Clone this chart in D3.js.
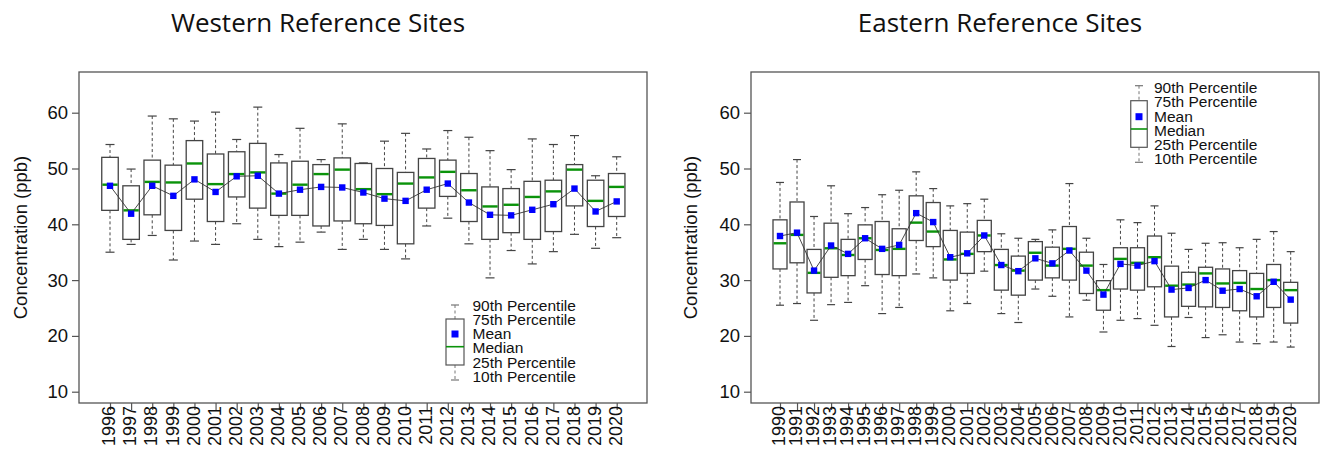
<!DOCTYPE html>
<html><head><meta charset="utf-8">
<script src="https://cdn.jsdelivr.net/npm/d3@7"></script>
<style>body{margin:0;background:#fff}svg{display:block}</style>
</head><body>
<svg id="c" width="1321" height="457"></svg>
<script>
// ---------- Data ----------
const westYears = d3.range(1996, 2021).map(String);
const westP90 = [54.3,49.9,59.4,58.9,58.5,60.1,55.2,61.0,52.5,57.2,51.6,58.0,51.0,54.9,56.3,53.5,56.8,55.6,53.2,49.8,55.3,54.3,55.9,48.7,52.1];
const westP75 = [52.0,46.9,51.5,50.6,55.0,52.6,53.0,54.5,51.0,51.3,50.7,51.9,50.9,50.0,49.3,51.8,51.5,49.1,46.7,46.4,47.7,47.9,50.7,47.9,49.1];
const westMedian = [47.1,42.5,47.6,47.5,50.9,47.2,49.0,49.3,45.5,47.1,49.0,49.8,46.3,45.4,47.3,48.4,49.4,46.1,43.2,43.5,44.9,45.9,49.8,44.2,46.7];
const westMean = [46.9,41.9,46.9,45.1,48.05,45.8,48.6,48.7,45.5,46.2,46.7,46.6,45.7,44.6,44.2,46.2,47.3,43.9,41.7,41.6,42.6,43.6,46.4,42.3,44.1];
const westP25 = [42.5,37.3,41.7,38.9,44.5,40.5,44.9,42.9,41.6,41.6,39.7,40.6,40.1,39.8,36.5,42.9,45.0,40.5,37.3,38.5,37.3,38.7,43.3,39.6,41.4];
const westP10 = [35.0,36.4,38.0,33.6,37.0,36.4,40.1,37.3,36.0,36.8,38.6,35.5,37.3,35.5,33.8,39.7,41.1,36.5,30.4,35.3,32.9,35.1,38.2,35.7,37.6];

const eastYears = d3.range(1990, 2021).map(String);
const eastP90 = [47.5,51.6,41.4,46.9,41.9,43.0,45.3,46.1,49.4,46.4,43.3,43.7,44.5,38.3,37.5,37.3,39.0,47.3,37.5,32.8,40.8,40.3,43.3,38.4,35.5,36.6,36.7,35.8,37.3,38.7,35.1];
const eastP75 = [40.8,44.0,35.5,40.2,37.3,39.9,40.5,39.2,45.1,43.9,38.9,38.6,40.7,35.5,34.3,36.9,35.9,39.6,35.0,29.9,35.8,35.8,37.9,32.5,31.4,32.3,32.0,31.7,31.2,32.8,29.6];
const eastMedian = [36.6,38.1,31.3,35.7,34.5,37.5,35.4,35.6,40.3,38.7,33.7,34.7,38.0,32.7,31.7,34.9,32.6,35.6,32.6,28.2,33.8,33.1,34.1,29.0,29.2,31.2,29.4,29.5,28.4,30.0,28.2];
const eastMean = [37.9,38.5,31.7,36.2,34.7,37.5,35.6,36.3,42.0,40.4,34.1,34.8,38.0,32.7,31.6,33.9,33.0,35.3,31.7,27.4,32.9,32.6,33.4,28.3,28.6,30.0,28.1,28.4,27.1,29.7,26.5];
const eastP25 = [32.0,33.1,27.7,30.5,30.8,33.7,31.0,30.8,37.1,36.0,30.0,31.2,35.1,28.2,27.3,30.0,30.4,30.0,27.6,24.6,28.4,28.2,28.8,23.4,25.3,25.2,25.1,24.5,23.4,25.1,22.3];
const eastP10 = [25.5,25.8,22.8,25.6,26.0,29.0,24.0,25.1,31.1,30.4,24.5,25.8,31.6,24.0,22.4,28.4,27.1,23.4,26.4,20.7,22.8,23.1,21.9,18.1,23.3,19.7,20.2,18.9,18.6,18.9,18.0];

const yTicks = [10,20,30,40,50,60];
const legendLabels = ["90th Percentile","75th Percentile","Mean","Median","25th Percentile","10th Percentile"];
const yLabel = "Concentration (ppb)";

// ---------- Drawing ----------
const svg = d3.select("#c");
const AX = "Liberation Sans, Arial, sans-serif";
const STROKE = "#444";

function panel(o){
  const g = svg.append("g");
  const rows = o.years.map((y,i)=>({year:y,p10:o.p10[i],p25:o.p25[i],med:o.med[i],mean:o.mean[i],p75:o.p75[i],p90:o.p90[i]}));
  const x = d3.scalePoint().domain(o.years).range([o.x0, o.x1]);
  const y = d3.scaleLinear().domain([10,60]).range([391.7,112.7]);
  const top = 72, bot = 403;
  const bw = o.bw, cw = o.cw;

  g.append("rect").attr("x",o.left).attr("y",top).attr("width",o.right-o.left).attr("height",bot-top)
    .attr("fill","none").attr("stroke","#555").attr("stroke-width",1.3);

  g.append("g").attr("transform",`translate(${o.left},0)`)
    .call(d3.axisLeft(y).tickValues(yTicks).tickSize(7).tickPadding(4))
    .call(a=>{a.select(".domain").remove();a.selectAll("line").attr("stroke","#555").attr("stroke-width",1.2);
      a.selectAll("text").attr("font-family",AX).attr("font-size",18.5).attr("fill","#111");});
  g.append("g").attr("transform",`translate(0,${bot})`)
    .call(d3.axisBottom(x).tickSize(7).tickPadding(3))
    .call(a=>{a.select(".domain").remove();a.selectAll("line").attr("stroke","#555").attr("stroke-width",1.2);
      a.selectAll("text").attr("font-family",AX).attr("font-size",18).attr("fill","#111")
       .attr("transform","rotate(-90)").attr("text-anchor","end").attr("y",0).attr("x",-3)
       .attr("dominant-baseline","middle").attr("dy",null);});

  g.append("text").attr("transform",`translate(${o.ylabX},${(top+bot)/2}) rotate(-90)`)
    .attr("text-anchor","middle").attr("dominant-baseline","middle")
    .attr("font-family",AX).attr("font-size",18.5).attr("fill","#111").text(yLabel);
  g.append("text").attr("x",o.titleX).attr("y",32).attr("text-anchor","middle")
    .attr("font-family","Open Sans, Noto Sans, sans-serif").attr("font-size",26).attr("fill","#111").text(o.title);

  const b = g.selectAll(".bx").data(rows).enter().append("g");
  b.append("line").attr("x1",d=>x(d.year)).attr("x2",d=>x(d.year)).attr("y1",d=>y(d.p90)).attr("y2",d=>y(d.p75))
    .attr("stroke","#444").attr("stroke-dasharray","3,2.5").attr("stroke-width",1);
  b.append("line").attr("x1",d=>x(d.year)).attr("x2",d=>x(d.year)).attr("y1",d=>y(d.p25)).attr("y2",d=>y(d.p10))
    .attr("stroke","#444").attr("stroke-dasharray","3,2.5").attr("stroke-width",1);
  b.append("line").attr("x1",d=>x(d.year)-cw/2).attr("x2",d=>x(d.year)+cw/2).attr("y1",d=>y(d.p90)).attr("y2",d=>y(d.p90))
    .attr("stroke","#444").attr("stroke-width",1.2);
  b.append("line").attr("x1",d=>x(d.year)-cw/2).attr("x2",d=>x(d.year)+cw/2).attr("y1",d=>y(d.p10)).attr("y2",d=>y(d.p10))
    .attr("stroke","#444").attr("stroke-width",1.2);
  b.append("rect").attr("x",d=>x(d.year)-bw/2).attr("width",bw).attr("y",d=>y(d.p75)).attr("height",d=>y(d.p25)-y(d.p75))
    .attr("fill","#fff").attr("stroke",STROKE).attr("stroke-width",1.3);
  b.append("line").attr("x1",d=>x(d.year)-bw/2+0.6).attr("x2",d=>x(d.year)+bw/2-0.6).attr("y1",d=>y(d.med)).attr("y2",d=>y(d.med))
    .attr("stroke","#0a930a").attr("stroke-width",2.4);
  g.append("path").datum(rows).attr("fill","none").attr("stroke","#333").attr("stroke-width",0.9)
    .attr("d",d3.line().x(d=>x(d.year)).y(d=>y(d.mean)));
  const ms = 6.4;
  g.selectAll(".mn").data(rows).enter().append("rect")
    .attr("x",d=>x(d.year)-ms/2).attr("y",d=>y(d.mean)-ms/2).attr("width",ms).attr("height",ms).attr("fill","#0000ff");

  const L = o.leg, lx = L.x, lw = L.w;
  const lg = g.append("g");
  lg.append("line").attr("x1",lx).attr("x2",lx).attr("y1",L.cap1).attr("y2",L.b1).attr("stroke","#777").attr("stroke-dasharray","3,2.5");
  lg.append("line").attr("x1",lx).attr("x2",lx).attr("y1",L.b2).attr("y2",L.cap2).attr("stroke","#777").attr("stroke-dasharray","3,2.5");
  lg.append("line").attr("x1",lx-4).attr("x2",lx+4).attr("y1",L.cap1).attr("y2",L.cap1).attr("stroke","#777").attr("stroke-width",1.2);
  lg.append("line").attr("x1",lx-4).attr("x2",lx+4).attr("y1",L.cap2).attr("y2",L.cap2).attr("stroke","#777").attr("stroke-width",1.2);
  lg.append("rect").attr("x",lx-lw/2).attr("y",L.b1).attr("width",lw).attr("height",L.b2-L.b1).attr("fill","#fff").attr("stroke","#555").attr("stroke-width",1.2);
  lg.append("line").attr("x1",lx-lw/2).attr("x2",lx+lw/2).attr("y1",L.med).attr("y2",L.med).attr("stroke","#0a930a").attr("stroke-width",1.6);
  lg.append("rect").attr("x",lx-3.5).attr("y",L.mean-3.5).attr("width",7).attr("height",7).attr("fill","#0000ff");
  lg.selectAll("text").data(legendLabels).enter().append("text")
    .attr("x",L.tx).attr("y",(d,i)=>L.ty+i*14.25).attr("dominant-baseline","middle")
    .attr("font-family",AX).attr("font-size",15.5).attr("fill","#111").text(d=>d);
}

panel({years:westYears,p10:westP10,p25:westP25,med:westMedian,mean:westMean,p75:westP75,p90:westP90,
  x0:110, x1:616.7, left:79, right:647, bw:16.5, cw:9, ylabX:22, titleX:318, title:"Western Reference Sites",
  leg:{x:455, w:18, cap1:305, b1:319, b2:365, cap2:380, med:346.7, mean:334, tx:472.5, ty:306.5}});
panel({years:eastYears,p10:eastP10,p25:eastP25,med:eastMedian,mean:eastMean,p75:eastP75,p90:eastP90,
  x0:780, x1:1290.7, left:751, right:1319, bw:14, cw:8, ylabX:692, titleX:1000, title:"Eastern Reference Sites",
  leg:{x:1139, w:16.5, cap1:85.7, b1:100.7, b2:147.3, cap2:162.3, med:129, mean:116.7, tx:1154, ty:89}});
</script>
</body></html>
